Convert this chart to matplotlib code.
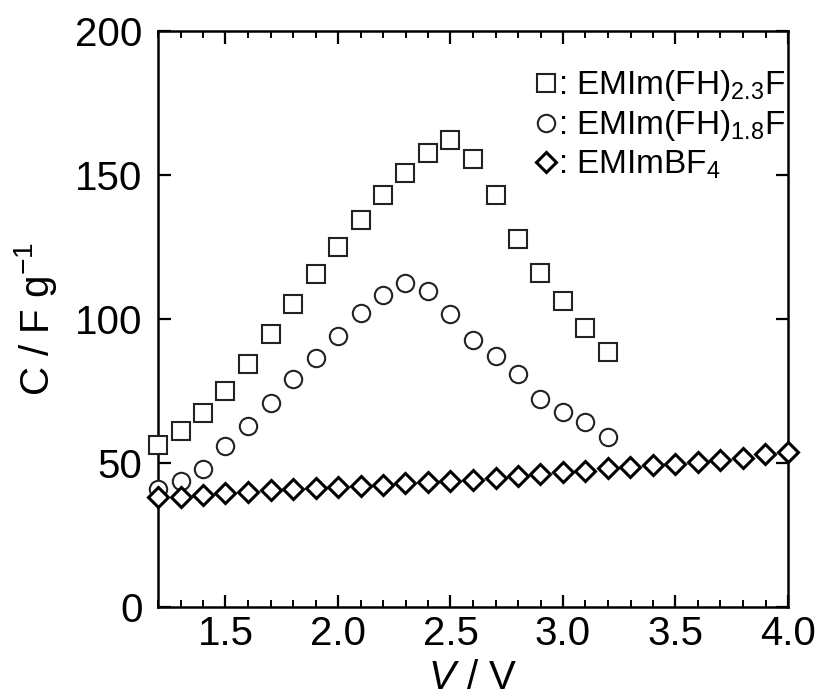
import matplotlib.pyplot as plt
import matplotlib as mpl
from matplotlib.ticker import MultipleLocator

mpl.rcParams.update({
    'font.family': 'sans-serif',
    'font.sans-serif': ['Liberation Sans'],
    'mathtext.fontset': 'custom',
    'mathtext.rm': 'Liberation Sans',
    'mathtext.it': 'Liberation Sans:italic',
    'mathtext.bf': 'Liberation Sans:bold',
    'font.size': 29,
    'axes.linewidth': 1.8,
})

# EMIm(FH)2.3F
v_23 = [1.2, 1.3, 1.4, 1.5, 1.6, 1.7, 1.8, 1.9, 2.0, 2.1, 2.2,
        2.3, 2.4, 2.5, 2.6, 2.7, 2.8, 2.9, 3.0, 3.1, 3.2]
c_23 = [56.3, 61.2, 67.2, 75.0, 84.4, 94.7, 105.1, 115.5, 125.1, 134.4, 143.1,
        150.8, 157.7, 162.2, 155.4, 143.1, 127.8, 116.1, 106.4, 96.8, 88.7]

# EMIm(FH)1.8F
v_18 = [1.2, 1.3, 1.4, 1.5, 1.6, 1.7, 1.8, 1.9, 2.0, 2.1, 2.2,
        2.3, 2.4, 2.5, 2.6, 2.7, 2.8, 2.9, 3.0, 3.1, 3.2]
c_18 = [40.9, 43.7, 47.8, 56.0, 62.8, 70.7, 79.3, 86.6, 94.2, 102.2, 108.3,
        112.4, 109.7, 101.8, 92.8, 87.3, 80.8, 72.1, 67.8, 64.1, 59.1]

# EMImBF4
v_bf4 = [1.2, 1.3, 1.4, 1.5, 1.6, 1.7, 1.8, 1.9, 2.0, 2.1, 2.2, 2.3, 2.4, 2.5,
         2.6, 2.7, 2.8, 2.9, 3.0, 3.1, 3.2, 3.3, 3.4, 3.5, 3.6, 3.7, 3.8, 3.9, 4.0]
c_bf4 = [38.3, 38.3, 38.9, 39.5, 40.0, 40.6, 40.9, 41.2, 41.8, 42.1, 42.4, 42.9, 43.5, 43.8,
         44.1, 44.9, 45.5, 46.2, 46.8, 47.3, 48.2, 48.7, 49.2, 49.8, 50.3, 51.0, 51.9, 53.0, 53.9]

labels = [r': EMIm(FH)$_{2.3}$F', r': EMIm(FH)$_{1.8}$F', r': EMImBF$_4$']

fig = plt.figure(figsize=(8.2, 7), dpi=100)
ax = fig.add_axes([158 / 820, 93 / 700, 630 / 820, 576 / 700])

ax.plot(v_23, c_23, 's', ms=13, mfc='white', mec='#222222', mew=1.5,
        clip_on=False, label=labels[0], zorder=3)
ax.plot(v_18, c_18, 'o', ms=12.5, mfc='white', mec='#222222', mew=1.5,
        clip_on=False, label=labels[1], zorder=3)
ax.plot(v_bf4, c_bf4, 'D', ms=10.5, mfc='white', mec='black', mew=2.2,
        clip_on=False, label=labels[2], zorder=4)

ax.set_xlim(1.2, 4.0)
ax.set_ylim(0, 200)
ax.xaxis.set_major_locator(MultipleLocator(0.5))
ax.xaxis.set_minor_locator(MultipleLocator(0.1))
ax.yaxis.set_major_locator(MultipleLocator(50))
ax.xaxis.set_major_formatter(plt.FuncFormatter(lambda x, _: f"{x:.1f}"))

ax.tick_params(axis='both', which='both', direction='in', top=True, right=True)
ax.tick_params(axis='x', which='major', length=9, width=1.6, pad=6)
ax.tick_params(axis='x', which='minor', length=5, width=1.4)
ax.tick_params(axis='y', which='major', length=9, width=1.6, pad=11)

ax.set_xlabel(r'$\mathit{V}$ / V', labelpad=4)
ax.set_ylabel(r'C / F g$^{-1}$', labelpad=12)

ax.legend(loc='upper right', bbox_to_anchor=(0.995, 0.935), frameon=False,
          fontsize=24, handlelength=0.6, handletextpad=0.05,
          borderaxespad=0, borderpad=0, labelspacing=0.15, markerscale=1.0)

fig.savefig('out.png', dpi=100)
